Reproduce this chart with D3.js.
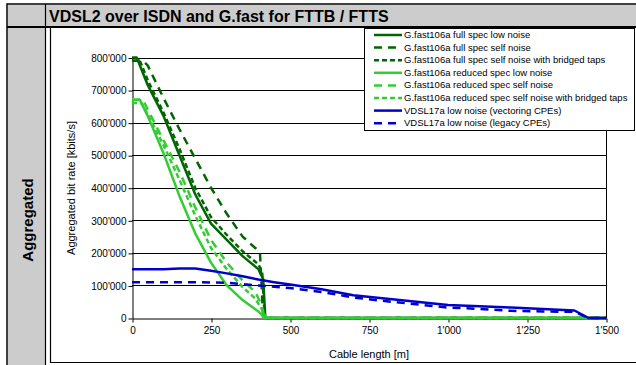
<!DOCTYPE html>
<html>
<head>
<meta charset="utf-8">
<script src="https://cdn.jsdelivr.net/npm/d3@7"></script>
<style>
  body { margin: 0; background: #fff; }
  svg { display: block; font-family: Arial, "Liberation Sans", sans-serif; }
</style>
</head>
<body>
<svg id="chart" width="636" height="365"></svg>
<script>
// cable length [m] -> aggregated bit rate [kbit/s]
const fullLow = [[0, 800000], [15, 800000], [50, 715000], [100, 620000], [150, 500000], [200, 380000], [250, 290000], [300, 240000], [350, 190000], [400, 150000], [415, 120000], [422, 0], [1500, 0]];
const fullSelf = [[0, 790000], [35, 790000], [50, 775000], [100, 675000], [150, 580000], [200, 490000], [250, 400000], [300, 320000], [350, 250000], [390, 215000], [405, 200000], [415, 0], [1500, 0]];
const fullSelfBt = [[0, 790000], [25, 790000], [50, 730000], [100, 630000], [150, 520000], [200, 400000], [250, 310000], [300, 255000], [350, 205000], [400, 165000], [412, 140000], [420, 0], [1500, 0]];
const redLow = [[0, 670000], [25, 670000], [50, 620000], [100, 505000], [150, 375000], [200, 260000], [250, 170000], [300, 100000], [350, 55000], [400, 20000], [420, 0], [1500, 0]];
const redSelf = [[0, 670000], [35, 670000], [50, 640000], [100, 545000], [150, 450000], [200, 340000], [250, 240000], [300, 170000], [350, 115000], [390, 80000], [410, 40000], [420, 0], [1500, 0]];
const redSelfBt = [[0, 660000], [30, 660000], [50, 625000], [100, 530000], [150, 425000], [200, 315000], [250, 215000], [300, 150000], [350, 95000], [390, 60000], [415, 20000], [425, 0], [1500, 0]];
const vdslVect = [[0, 150000], [100, 150000], [150, 152000], [200, 152000], [250, 145000], [300, 137000], [350, 128000], [400, 118000], [450, 110000], [500, 103000], [600, 88000], [700, 70000], [800, 60000], [900, 50000], [1000, 40000], [1100, 36000], [1200, 32000], [1300, 28000], [1400, 23000], [1445, 0], [1500, 0]];
const vdslLegacy = [[0, 110000], [100, 110000], [200, 110000], [300, 108000], [400, 100000], [500, 92000], [600, 80000], [700, 63000], [800, 52000], [900, 42000], [1000, 32000], [1100, 28000], [1200, 22000], [1300, 20000], [1400, 19000], [1445, 0], [1500, 0]];

const seriesNames = [
  "G.fast106a full spec low noise",
  "G.fast106a full spec self noise",
  "G.fast106a full spec self noise with bridged taps",
  "G.fast106a reduced spec low noise",
  "G.fast106a reduced spec self noise",
  "G.fast106a reduced spec self noise with bridged taps",
  "VDSL17a low noise (vectoring CPEs)",
  "VDSL17a low noise (legacy CPEs)"
];
const seriesData = [fullLow, fullSelf, fullSelfBt, redLow, redSelf, redSelfBt, vdslVect, vdslLegacy];
const xTicks = [0, 250, 500, 750, 1000, 1250, 1500];
const yTicks = [0, 100000, 200000, 300000, 400000, 500000, 600000, 700000, 800000];

const darkGreen = "#006600", lightGreen = "#33cc33", blue = "#0000cc";
const styles = [
  { color: darkGreen, dash: null },
  { color: darkGreen, dash: "8,6" },
  { color: darkGreen, dash: "5,3" },
  { color: lightGreen, dash: null },
  { color: lightGreen, dash: "8,6" },
  { color: lightGreen, dash: "5,3" },
  { color: blue, dash: null },
  { color: blue, dash: "8,6" }
];

const svg = d3.select("#chart");
const gray = "#cccccc";

// table frame
svg.append("rect").attr("x", 7).attr("y", 4).attr("width", 640).attr("height", 370).attr("fill", "#fff").attr("stroke", "#000").attr("stroke-width", 1.5);
svg.append("rect").attr("x", 8).attr("y", 5).attr("width", 640).attr("height", 21).attr("fill", gray);
svg.append("rect").attr("x", 8).attr("y", 5).attr("width", 37).attr("height", 370).attr("fill", gray);
svg.append("line").attr("x1", 45.5).attr("x2", 45.5).attr("y1", 4).attr("y2", 365).attr("stroke", "#000").attr("stroke-width", 1.2);
svg.append("line").attr("x1", 7).attr("x2", 636).attr("y1", 27).attr("y2", 27).attr("stroke", "#000").attr("stroke-width", 2);
// inner chart frame
svg.append("path").attr("d", "M50.5,28 V362.5 H636").attr("fill", "none").attr("stroke", "#000").attr("stroke-width", 1.2);

svg.append("text").attr("x", 49).attr("y", 22).attr("font-size", 16).attr("font-weight", "bold").text("VDSL2 over ISDN and G.fast for FTTB / FTTS");
svg.append("text").attr("transform", "translate(33,220) rotate(-90)").attr("text-anchor", "middle")
  .attr("font-size", 15).attr("font-weight", "bold").text("Aggregated");

// plot
const x = d3.scaleLinear().domain([0, 1500]).range([132, 606]);
const y = d3.scaleLinear().domain([0, 800000]).range([318, 57.5]);
const fmt = d3.formatLocale({ decimal: ".", thousands: "'", grouping: [3], currency: ["", ""] }).format(",");

svg.append("g").selectAll("line").data(yTicks.filter(d => d > 0)).join("line")
  .attr("x1", x(0)).attr("x2", x(1500))
  .attr("y1", d => Math.round(y(d)) + 0.5).attr("y2", d => Math.round(y(d)) + 0.5)
  .attr("stroke", "#000").attr("stroke-width", 1);
svg.append("line").attr("x1", x(1500) + 0.5).attr("x2", x(1500) + 0.5).attr("y1", y(800000)).attr("y2", y(0)).attr("stroke", "#000");

const yAxis = svg.append("g").attr("transform", `translate(${x(0) + 0.5},0.5)`)
  .call(d3.axisLeft(y).tickValues(yTicks).tickFormat(fmt).tickSize(4).tickSizeOuter(0));
const xAxis = svg.append("g").attr("transform", `translate(0.5,${Math.round(y(0)) + 0.5})`)
  .call(d3.axisBottom(x).tickValues(xTicks).tickFormat(fmt).tickSize(4).tickSizeOuter(0));
[yAxis, xAxis].forEach(g => {
  g.selectAll("path, line").attr("stroke", "#000");
  g.selectAll("text").attr("font-size", 10).attr("font-family", "Arial, 'Liberation Sans', sans-serif").attr("fill", "#000");
});
yAxis.selectAll("text").attr("x", -6);
xAxis.selectAll("text").attr("y", 8);

svg.append("text").attr("transform", "translate(75,188) rotate(-90)").attr("text-anchor", "middle")
  .attr("font-size", 11).text("Aggregated bit rate [kbits/s]");
svg.append("text").attr("x", 369).attr("y", 358).attr("text-anchor", "middle").attr("font-size", 11).text("Cable length [m]");

const line = d3.line().x(d => x(d[0])).y(d => y(d[1]));
svg.append("g").selectAll("path").data(seriesData).join("path")
  .attr("d", line).attr("fill", "none")
  .attr("stroke", (d, i) => styles[i].color)
  .attr("stroke-dasharray", (d, i) => styles[i].dash)
  .attr("stroke-width", 2.5).attr("stroke-linejoin", "round");

// legend
const lg = svg.append("g");
lg.append("rect").attr("x", 364.5).attr("y", 28.5).attr("width", 270).attr("height", 102).attr("fill", "#fff").attr("stroke", "#000");
const rows = lg.selectAll("g.row").data(seriesNames).join("g").attr("class", "row")
  .attr("transform", (d, i) => `translate(0,${35 + i * 12.6})`);
rows.append("line").attr("x1", 374).attr("x2", 402).attr("y1", 0).attr("y2", 0)
  .attr("stroke", (d, i) => styles[i].color)
  .attr("stroke-dasharray", (d, i) => styles[i].dash)
  .attr("stroke-width", 2.5);
rows.append("text").attr("x", 404).attr("y", 3).attr("font-size", 9.5).text(d => d);
</script>
</body>
</html>
